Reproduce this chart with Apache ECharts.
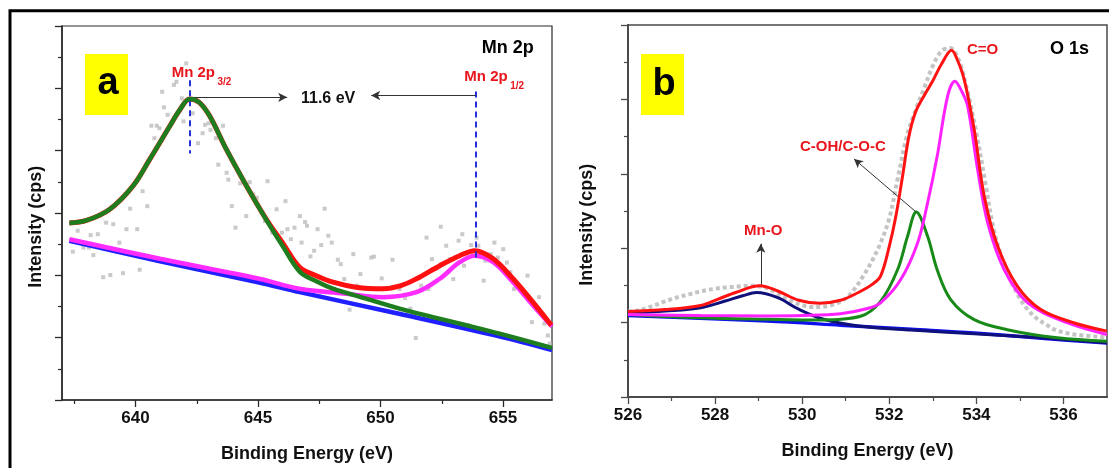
<!DOCTYPE html>
<html><head><meta charset="utf-8">
<script src="https://cdn.jsdelivr.net/npm/echarts@6/dist/echarts.min.js"></script>
<style>html,body{margin:0;padding:0;background:#fff}#c{width:1109px;height:468px}</style>
</head><body><div id="c"></div>
<script>
// ================= Panel (a): Mn 2p =================
const mnXTicks = [640, 645, 650, 655];
const mnXMinorTicks = [637.5, 642.5, 647.5, 652.5];
const mnRaw = [
 [637.44,4.76],[637.64,5.43],[637.88,4.89],[638.10,4.89],[638.28,4.65],[638.17,5.29],[638.46,5.32],[638.68,3.94],
 [638.97,4.01],[638.80,5.69],[639.09,5.64],[639.34,5.05],[639.49,4.07],[639.63,5.48],[639.78,6.14],[640.07,5.48],
 [640.17,4.18],[640.29,6.70],[640.48,6.22],[640.65,8.80],[640.87,8.80],[640.98,8.72],[640.77,8.40],[641.09,9.89],
 [641.16,9.39],[641.31,9.15],[641.57,10.11],[641.67,10.21],[641.89,9.68],[641.96,8.94],[642.07,10.80],[642.33,9.20],
 [642.45,9.63],[642.55,8.24],[642.74,8.56],[642.84,8.83],[642.99,8.88],[643.06,8.67],[643.28,8.40],[643.38,7.55],
 [643.57,8.80],[643.72,7.29],[643.79,7.07],[643.93,6.22],[644.08,5.53],[644.27,6.95],[644.52,5.90],[644.66,6.99],
 [644.81,6.60],[644.95,6.49],[645.17,6.01],[645.28,5.74],[645.39,7.02],[645.58,5.37],[645.76,6.12],[645.98,5.37],
 [646.12,6.38],[646.20,5.48],[646.34,5.16],[646.49,5.53],[646.71,5.90],[646.78,5.05],[646.92,5.71],[647.00,5.59],
 [647.14,4.61],[647.29,4.79],[647.43,5.48],[647.58,4.97],[647.72,6.14],[647.87,5.27],[648.01,5.05],[648.26,4.50],
 [648.38,4.36],[648.52,3.88],[648.74,2.90],[648.89,4.68],[649.03,3.67],[649.18,4.04],[649.40,3.56],[649.62,4.57],
 [649.73,4.60],[650.05,3.90],[650.27,3.59],[650.49,4.50],[650.78,3.56],[651.00,3.27],[651.22,2.93],[651.44,1.99],
 [651.66,3.67],[651.88,5.21],[651.95,3.56],[652.10,4.52],[652.32,4.22],[652.46,5.56],[652.68,4.95],[652.83,4.52],
 [652.97,3.88],[653.19,5.11],[653.34,5.32],[653.41,4.31],[653.70,4.97],[653.92,5.21],[653.99,4.95],[654.21,3.83],
 [654.28,4.47],[654.50,4.68],[654.65,5.05],[654.79,4.57],[655.01,4.84],[655.16,4.41],[655.30,4.10],[655.45,3.56],
 [656.00,3.99],[656.18,2.50],[656.47,3.30],[656.62,2.77],[656.69,2.45],[656.91,1.81],[656.83,2.07]
];
const mnEnvelope = [
 [637.3,5.68],[638.0,5.76],[638.95,6.12],[639.9,6.87],[640.58,7.72],[641.4,8.79],[641.8,9.30],[642.21,9.66],
 [642.6,9.55],[643.03,9.11],[643.71,8.04],[644.53,6.87],[645.34,5.80],[646.0,5.05],[646.7,4.26],[647.4,3.98],
 [648.06,3.78],[649.0,3.62],[650.1,3.57],[650.8,3.66],[651.47,3.89],[652.42,4.31],[653.23,4.63],[653.85,4.79],
 [654.6,4.53],[655.41,3.89],[656.22,3.14],[656.97,2.40]
];
const mn2p32 = [
 [637.3,5.68],[638.0,5.76],[638.95,6.12],[639.9,6.87],[640.58,7.72],[641.4,8.79],[641.8,9.30],[642.21,9.66],
 [642.6,9.55],[643.03,9.11],[643.71,8.04],[644.53,6.87],[645.34,5.78],[646.0,4.95],[646.7,4.12],[647.4,3.80],
 [648.06,3.57],[649.42,3.25],[650.78,2.93],[652.14,2.66],[653.5,2.40],[654.86,2.13],[657.0,1.67]
];
const mn2p12 = [
 [637.3,5.16],[641.0,4.53],[645.0,3.90],[646.7,3.57],[648.5,3.42],[650.1,3.30],[651.47,3.46],[652.42,3.89],
 [653.23,4.42],[653.85,4.63],[654.6,4.42],[655.41,3.78],[656.22,3.04],[657.0,2.36]
];
const mnBackground = [
 [637.3,5.11],[641.0,4.45],[645.0,3.78],[646.7,3.46],[650.8,2.76],[654.8,2.05],[657.0,1.60]
];
const mnPeakPositions = [642.23, 653.89];
const mnSplitting = '11.6 eV';

// ================= Panel (b): O 1s =================
const oXTicks = [526, 528, 530, 532, 534, 536];
const oXMinorTicks = [527, 529, 531, 533, 535];
const oRaw = [
 [526.0,2.30],[526.2,2.32],[526.4,2.38],[526.6,2.46],[526.8,2.55],[527.0,2.63],[527.2,2.70],[527.4,2.76],
 [527.6,2.82],[527.8,2.87],[528.0,2.91],[528.2,2.94],[528.4,2.96],[528.6,2.98],[528.8,2.99],[529.0,2.98],
 [529.2,2.92],[529.4,2.80],[529.6,2.66],[529.8,2.55],[530.0,2.47],[530.2,2.42],[530.4,2.42],[530.6,2.45],
 [530.8,2.52],[531.0,2.65],[531.2,2.90],[531.4,3.25],[531.6,3.65],[531.8,4.14],[532.0,4.80],[532.2,5.90],
 [532.4,7.00],[532.6,7.70],[532.8,8.30],[533.0,8.90],[533.2,9.30],[533.4,9.38],[533.6,9.05],[533.8,8.20],
 [534.0,7.10],[534.2,5.80],[534.4,4.50],[534.6,3.70],[534.8,3.10],[535.0,2.65],[535.2,2.32],[535.4,2.10],
 [535.6,1.95],[535.8,1.81],[536.0,1.74],[536.2,1.69],[536.4,1.66],[536.6,1.64],[536.8,1.62],[537.0,1.60]
];
const oEnvelope = [
 [526.0,2.30],[526.86,2.35],[527.67,2.46],[528.07,2.63],[528.47,2.81],[529.03,2.99],[529.44,2.85],[529.92,2.60],
 [530.4,2.52],[530.88,2.60],[531.29,2.81],[531.6,3.02],[531.8,3.25],[532.0,4.05],[532.15,4.85],[532.3,5.90],
 [532.45,7.00],[532.6,7.65],[532.8,8.10],[533.0,8.50],[533.2,8.95],[533.43,9.32],[533.55,9.10],[533.72,8.54],
 [533.95,7.19],[534.18,5.40],[534.49,4.05],[534.94,2.98],[535.48,2.35],[536.25,1.99],[537.0,1.77]
];
const oCarbonyl = [
 [526.0,2.22],[527.67,2.19],[529.2,2.18],[530.0,2.19],[530.88,2.24],[531.5,2.38],[531.8,2.53],[532.26,3.15],
 [532.65,4.14],[532.88,5.22],[533.1,6.47],[533.34,8.09],[533.51,8.49],[533.65,8.25],[533.8,7.82],[534.03,6.11],
 [534.26,4.68],[534.64,3.42],[535.18,2.53],[536.1,1.99],[537.0,1.68]
];
const oHydroxyl = [
 [526.0,2.22],[527.67,2.13],[529.2,2.09],[530.4,2.07],[531.34,2.17],[531.8,2.57],[532.19,3.42],[532.42,4.32],
 [532.62,4.97],[532.88,4.32],[533.1,3.42],[533.41,2.62],[533.95,2.08],[534.71,1.81],[535.86,1.59],[537.0,1.50]
];
const oMnO = [
 [526.0,2.25],[526.86,2.31],[527.67,2.40],[528.23,2.58],[528.63,2.72],[528.95,2.81],[529.44,2.67],[529.92,2.36],
 [530.49,2.09],[531.29,1.91],[532.5,1.80],[533.95,1.70],[535.5,1.59],[537.0,1.46]
];
const oBackground = [
 [526.0,2.19],[529.2,2.04],[530.88,1.93],[532.5,1.82],[533.95,1.72],[535.5,1.58],[537.0,1.45]
];
const oMnOPeak = [529.05, 2.99];
const oHydroxylPeak = [532.62, 4.97];

// ================= Chart =================
const F = '"Liberation Sans", Arial, Helvetica, sans-serif';
const AXA = '#2a2a2a', AXB = '#4a4a4a';
const LBL_RED = '#e8161c';

function xMain(gi, min, max, ticks, col, w) {
  return {type:'value', gridIndex:gi, min, max, position:'bottom',
    name:'Binding Energy (eV)', nameLocation:'middle', nameGap:45,
    nameTextStyle:{fontFamily:F, fontWeight:'bold', fontSize:18, color:'#111'},
    axisLine:{show:true, onZero:false, lineStyle:{color:col, width:w}},
    axisTick:{show:true, customValues:ticks, length:7, lineStyle:{color:col, width:1.3}},
    axisLabel:{show:true, customValues:ticks, margin:10, fontFamily:F, fontWeight:'bold', fontSize:17, color:'#111'},
    splitLine:{show:false}};
}
function xMinor(gi, min, max, ticks, col) {
  return {type:'value', gridIndex:gi, min, max, position:'bottom',
    axisLine:{show:false}, axisTick:{show:true, customValues:ticks, length:4, lineStyle:{color:col, width:1.2}},
    axisLabel:{show:false}, splitLine:{show:false}};
}
function yAx(gi, max, col, w) {
  return {type:'value', gridIndex:gi, min:0, max, interval:2, position:'left',
    axisLine:{show:true, onZero:false, lineStyle:{color:col, width:w}},
    axisTick:{show:true, length:7, lineStyle:{color:col, width:1.3}},
    minorTick:{show:true, splitNumber:2, length:4, lineStyle:{color:col, width:1.2}},
    axisLabel:{show:false}, splitLine:{show:false}};
}
function line(data, color, width, xi, yi, z) {
  return {type:'line', data, xAxisIndex:xi, yAxisIndex:yi, smooth:0.35, symbol:'none',
    lineStyle:{color, width}, z, silent:true};
}
function arrow(from, to) {
  return [{coord:from}, {coord:to}];
}

const option = {
  animation:false,
  backgroundColor:'#ffffff',
  grid:[
    {left:62, top:26, width:490, height:376, show:true, borderColor:AXA, borderWidth:1.2, backgroundColor:'#fff'},
    {left:628, top:25, width:479, height:372, show:true, borderColor:AXB, borderWidth:1.5, backgroundColor:'#fff'}
  ],
  xAxis:[
    xMain(0, 637, 657, mnXTicks, AXA, 1.6),
    xMinor(0, 637, 657, mnXMinorTicks, AXA),
    xMain(1, 526, 537, oXTicks, AXB, 2),
    xMinor(1, 526, 537, oXMinorTicks, AXB)
  ],
  yAxis:[ yAx(0, 12, AXA, 1.6), yAx(1, 10, AXB, 2) ],
  series:[
    // panel a
    {type:'scatter', data:mnRaw, xAxisIndex:0, yAxisIndex:0, symbol:'rect', symbolSize:4,
      itemStyle:{color:'#bdbdbd'}, z:1, silent:true},
    Object.assign(line(mnBackground, '#1f1fff', 4.5, 0, 0, 2), {
      markLine:{silent:true, symbol:['none','none'], label:{show:false},
        lineStyle:{color:'#2530d8', width:2, type:[6,4]},
        data:[ arrow([mnPeakPositions[0],10.26],[mnPeakPositions[0],7.91]),
               arrow([mnPeakPositions[1],9.90],[mnPeakPositions[1],4.47]) ]}
    }),
    line(mn2p12, '#ff2cff', 4.5, 0, 0, 3),
    line(mnEnvelope, '#ff1010', 5, 0, 0, 4),
    Object.assign(line(mn2p32, '#1e7d1e', 4.5, 0, 0, 5), {
      markLine:{silent:true, symbol:['none','arrow'], symbolSize:[7,9], label:{show:false},
        lineStyle:{color:'#333', width:1.1, type:'solid'},
        data:[ arrow([mnPeakPositions[0],9.71],[646.19,9.71]),
               arrow([mnPeakPositions[1],9.77],[649.62,9.77]) ]}
    }),
    // panel b
    Object.assign(line(oRaw, '#c4c4c4', 4, 2, 1, 1), {lineStyle:{color:'#c4c4c4', width:4, type:[4,3]}}),
    line(oBackground, '#1010ee', 3.5, 2, 1, 2),
    line(oMnO, '#10107a', 3, 2, 1, 3),
    line(oHydroxyl, '#178a17', 3, 2, 1, 4),
    line(oCarbonyl, '#ff22ff', 3, 2, 1, 5),
    Object.assign(line(oEnvelope, '#ff1212', 3, 2, 1, 6), {
      markLine:{silent:true, symbol:['none','arrow'], symbolSize:[7,9], label:{show:false},
        lineStyle:{color:'#333', width:1, type:'solid'},
        data:[ arrow(oHydroxylPeak,[531.19,6.40]), arrow(oMnOPeak,[oMnOPeak[0],4.12]) ]}
    })
  ],
  graphic:[
    {type:'rect', shape:{x:10, y:10.8, width:1300, height:700}, style:{fill:'none', stroke:'#000', lineWidth:3}, z:100},
    // y titles
    {type:'text', x:35.7, y:226.7, rotation:Math.PI/2, style:{text:'Intensity (cps)', fontFamily:F, fontWeight:'bold', fontSize:18, fill:'#111', align:'center', verticalAlign:'middle'}},
    {type:'text', x:587.3, y:224.7, rotation:Math.PI/2, style:{text:'Intensity (cps)', fontFamily:F, fontWeight:'bold', fontSize:18, fill:'#111', align:'center', verticalAlign:'middle'}},
    // panel letters
    {type:'rect', shape:{x:85, y:54, width:43, height:61}, style:{fill:'#ffff00'}, z:50},
    {type:'text', x:108, y:84, z:51, style:{text:'a', fontFamily:F, fontWeight:'bold', fontSize:38, fill:'#000', align:'center', verticalAlign:'middle'}},
    {type:'rect', shape:{x:641, y:54, width:43, height:61}, style:{fill:'#ffff00'}, z:50},
    {type:'text', x:664, y:84.6, z:51, style:{text:'b', fontFamily:F, fontWeight:'bold', fontSize:38, fill:'#000', align:'center', verticalAlign:'middle'}},
    // panel a texts
    {type:'text', x:481.7, y:48.3, z:51, style:{text:'Mn 2p', fontFamily:F, fontWeight:'bold', fontSize:18, fill:'#000', align:'left', verticalAlign:'middle'}},
    {type:'text', x:171.7, y:73.3, z:51, style:{text:'Mn 2p', fontFamily:F, fontWeight:'bold', fontSize:15, fill:LBL_RED, align:'left', verticalAlign:'middle'}},
    {type:'text', x:217.5, y:82, z:51, style:{text:'3/2', fontFamily:F, fontWeight:'bold', fontSize:10, fill:LBL_RED, align:'left', verticalAlign:'middle'}},
    {type:'text', x:464.3, y:77.3, z:51, style:{text:'Mn 2p', fontFamily:F, fontWeight:'bold', fontSize:15, fill:LBL_RED, align:'left', verticalAlign:'middle'}},
    {type:'text', x:510.2, y:86, z:51, style:{text:'1/2', fontFamily:F, fontWeight:'bold', fontSize:10, fill:LBL_RED, align:'left', verticalAlign:'middle'}},
    {type:'text', x:301, y:98.3, z:51, style:{text:mnSplitting, fontFamily:F, fontWeight:'bold', fontSize:16, fill:'#111', align:'left', verticalAlign:'middle'}},
    // panel b texts
    {type:'text', x:1050, y:49, z:51, style:{text:'O 1s', fontFamily:F, fontWeight:'bold', fontSize:18, fill:'#000', align:'left', verticalAlign:'middle'}},
    {type:'text', x:967, y:50, z:51, style:{text:'C=O', fontFamily:F, fontWeight:'bold', fontSize:15, fill:LBL_RED, align:'left', verticalAlign:'middle'}},
    {type:'text', x:800, y:146.7, z:51, style:{text:'C-OH/C-O-C', fontFamily:F, fontWeight:'bold', fontSize:15, fill:LBL_RED, align:'left', verticalAlign:'middle'}},
    {type:'text', x:744, y:230.7, z:51, style:{text:'Mn-O', fontFamily:F, fontWeight:'bold', fontSize:15, fill:LBL_RED, align:'left', verticalAlign:'middle'}}
  ]
};
const chart = echarts.init(document.getElementById('c'));
chart.setOption(option);
</script></body></html>
